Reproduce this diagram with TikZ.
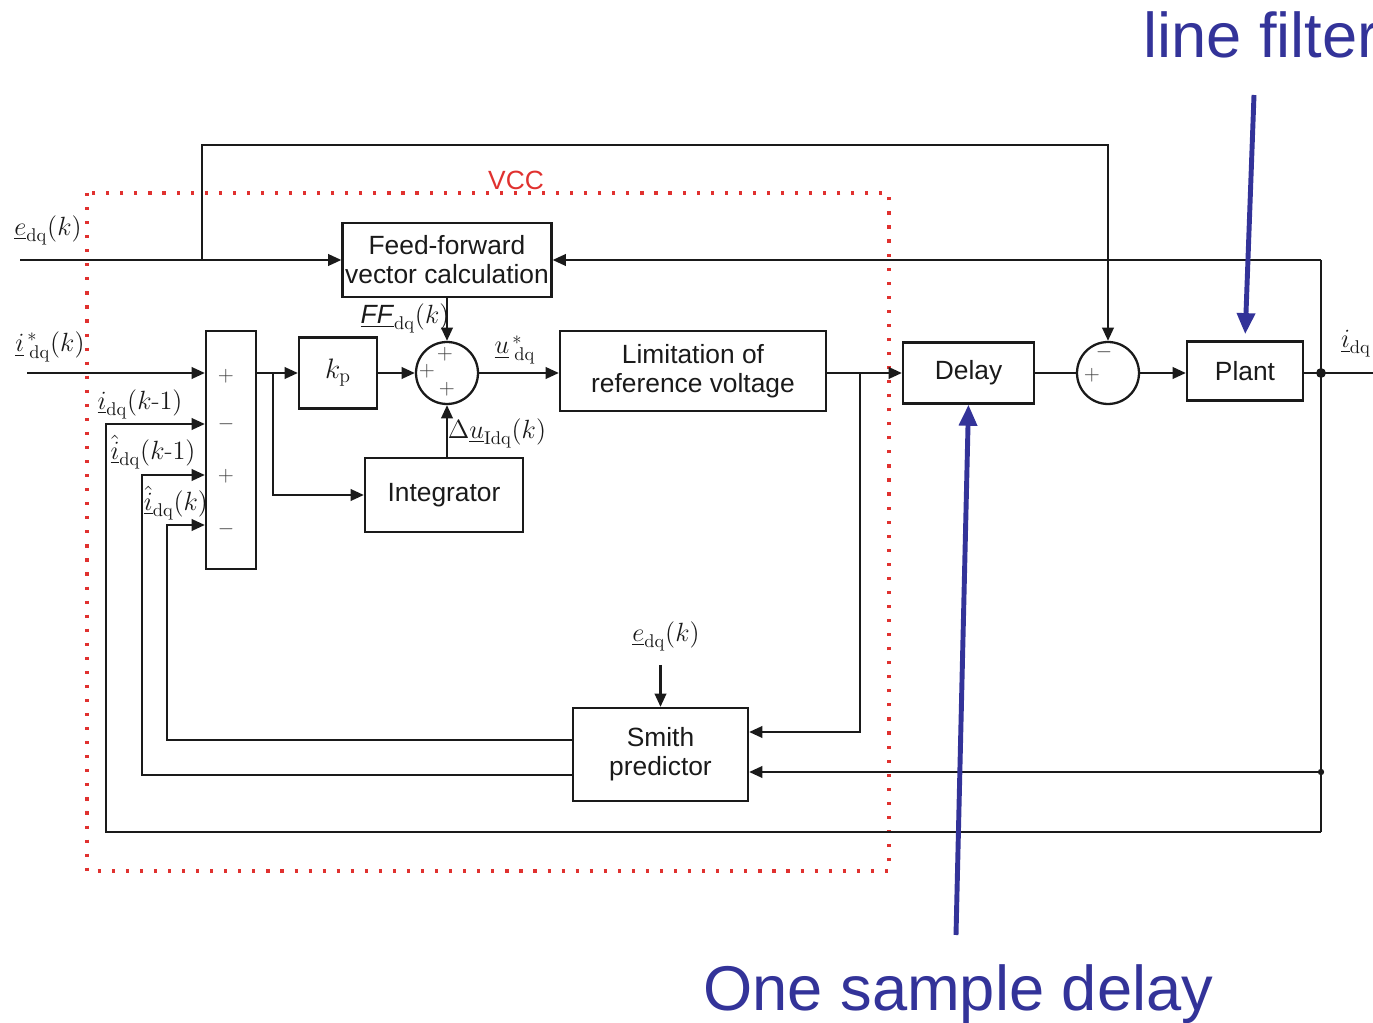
\RequirePackage{fix-cm}
\documentclass[tikz,border=0pt]{standalone}
\usepackage{amsmath}
\usepackage{fontspec}
\setsansfont{Liberation Sans}
\usetikzlibrary{arrows.meta,positioning,calc}
\definecolor{ink}     {HTML}{1A1A1A}
\definecolor{vccred}  {HTML}{E0312F}
\definecolor{noteblue}{HTML}{333399}

\begin{document}
\begin{tikzpicture}[
  x=0.02cm, y=-0.02cm,
  every node/.style={inner sep=0pt},
  blk/.style={draw=ink, line width=1.3pt, fill=white, align=center, text=ink,
              font=\sffamily\fontsize{15}{16.5}\selectfont},
  sumc/.style={circle, draw=ink, line width=1.3pt, minimum size=1.24cm},
  lab/.style={font=\fontsize{15}{17}\selectfont, text=ink},
  sgn/.style={font=\fontsize{12}{12}\selectfont, text=ink!85},
  wire/.style={draw=ink, line width=1.3pt},
  arr/.style={wire, -{Triangle[length=7.5pt,width=6.5pt]}},
  note/.style={draw=noteblue, line width=2.8pt, -{Triangle[length=12pt,width=10pt]}},
  notetxt/.style={font=\sffamily\fontsize{36}{40}\selectfont, text=noteblue},
  vcc/.style={draw=vccred, line width=2.2pt, dash pattern=on 1.8pt off 6.2pt}
]
\useasboundingbox (0,0) rectangle (1373,1023);
\draw[vcc] (87,193) rectangle (889,871);
\node[font=\sffamily\fontsize{15}{17}\selectfont, text=vccred] (vcclab) at (516,180) {VCC};

\node[blk, minimum width=4.18cm, minimum height=1.48cm] (ff)    at (447,260)   {Feed-forward\\vector calculation};
\node[blk, minimum width=1cm,    minimum height=4.76cm] (sum)   at (231,450)   {};
\node[blk, minimum width=1.56cm, minimum height=1.42cm,
      font=\fontsize{16}{18}\selectfont]                (kp)    at (338,373)   {$k_{\mathrm{p}}$};
\node[sumc]                                             (s1)    at (447,373)   {};
\node[blk, minimum width=3.16cm, minimum height=1.48cm] (integ) at (444,495)   {Integrator};
\node[blk, minimum width=5.32cm, minimum height=1.6cm]  (lim)   at (693,371)   {Limitation of\\reference voltage};
\node[blk, minimum width=2.62cm, minimum height=1.22cm] (delay) at (968.5,373) {Delay};
\node[sumc]                                             (s2)    at (1108,373)  {};
\node[blk, minimum width=2.32cm, minimum height=1.18cm] (plant) at (1245,371)  {Plant};
\node[blk, minimum width=3.5cm,  minimum height=1.86cm] (smith) at (660.5,754.5) {Smith\\predictor};

\coordinate (edin) at (20,260);
\coordinate (iin)  at (27,373);
\coordinate (ebr)  at (202,260);
\coordinate (tl)   at (202,145);
\coordinate (pbr)  at (273,373);
\coordinate (lbr)  at (860,373);
\coordinate (bt)   at (1321,260);
\coordinate (bm)   at (1321,373);
\coordinate (bs)   at (1321,772);
\coordinate (bb)   at (1321,832);
\coordinate (out)  at (1373,373);
\coordinate (fb1)  at (106,424);
\coordinate (fb2)  at (142,475);
\coordinate (fb3)  at (167,525);

\draw[arr] (edin) -- (ff.west);
\draw[arr] (ebr) -- (tl) -| (s2.north);
\draw[arr] (iin) -- (sum.west |- iin);
\draw[arr] (sum.east |- kp) -- (kp.west);
\draw[arr] (pbr) |- (integ.west);
\draw[arr] (kp.east) -- (s1.west);
\draw[arr] (ff.south) -- (s1.north);
\draw[arr] (s1.south |- integ.north) -- (s1.south);
\draw[arr] (s1.east) -- (lim.west |- s1);
\draw[arr] (lim.east |- lbr) -- (delay.west);
\draw[arr] (lbr) |- (smith.east |- 0,732);
\draw[wire] (delay.east) -- (s2.west);
\draw[arr] (s2.east) -- (plant.west |- s2);
\draw[wire] (plant.east |- bm) -- (out);
\draw[wire] (bt) -- (bb);
\draw[arr] (bt) -- (ff.east |- bt);
\draw[arr] (bs) -- (smith.east |- bs);
\draw[arr] (bb) -| (fb1) -- (sum.west |- fb1);
\draw[arr] (smith.west |- 0,775) -| (fb2) -- (sum.west |- fb2);
\draw[arr] (smith.west |- 0,740) -| (fb3) -- (sum.west |- fb3);
\draw[arr] (smith.north |- 0,665) -- (smith.north);
\fill[ink] (bm) circle (2.8pt);
\fill[ink] (bs) circle (1.8pt);

\foreach \y/\s [count=\n] in {376/+,424/-,476/+,529/-}
  \node[sgn] (sg\n) at (226,\y) {$\s$};
\node[sgn] (p1) at (445,354) {$+$};
\node[sgn] (p2) at (427,371) {$+$};
\node[sgn] (p3) at (447,389) {$+$};
\node[sgn] (m1) at (1104,352) {$-$};
\node[sgn] (m2) at (1092,375) {$+$};

\node[lab] (edl) at (48,230)   {$\underline{e}_{\mathrm{dq}}(k)$};
\node[lab] (irl) at (50,347)   {$\underline{i}^{\,*}_{\;\mathrm{dq}}(k)$};
\node[lab] (ikl) at (140,404)  {$\underline{i}_{\mathrm{dq}}(k\text{-}1)$};
\node[lab] (ihl) at (153,452)  {$\hat{\underline{i}}_{\mathrm{dq}}(k\text{-}1)$};
\node[lab] (ihk) at (176,503)  {$\hat{\underline{i}}_{\mathrm{dq}}(k)$};
\node[lab] (ffl) at (405,318)  {$\underline{\textsf{\textit{FF}}}_{\mathrm{dq}}(k)$};
\node[lab] (ul)  at (515,350)  {$\underline{u}^{\,*}_{\;\mathrm{dq}}$};
\node[lab] (dul) at (497,433)  {$\Delta\underline{u}_{\mathrm{Idq}}(k)$};
\node[lab] (esl) at (666,636)  {$\underline{e}_{\mathrm{dq}}(k)$};
\node[lab] (idl) at (1356,344) {$\underline{i}_{\mathrm{dq}}$};

\node[notetxt, anchor=base west] (lftxt)  at (1143,58)  {line filter};
\node[notetxt, anchor=base west] (osdtxt) at (703,1010) {One sample delay};
\coordinate (lftail)  at (1254,95);
\coordinate (osdtail) at (956,935);
\draw[note, shorten >=3.5pt] (lftail) -- (plant.north);
\draw[note] (osdtail) -- (delay.south);
\end{tikzpicture}
\end{document}
